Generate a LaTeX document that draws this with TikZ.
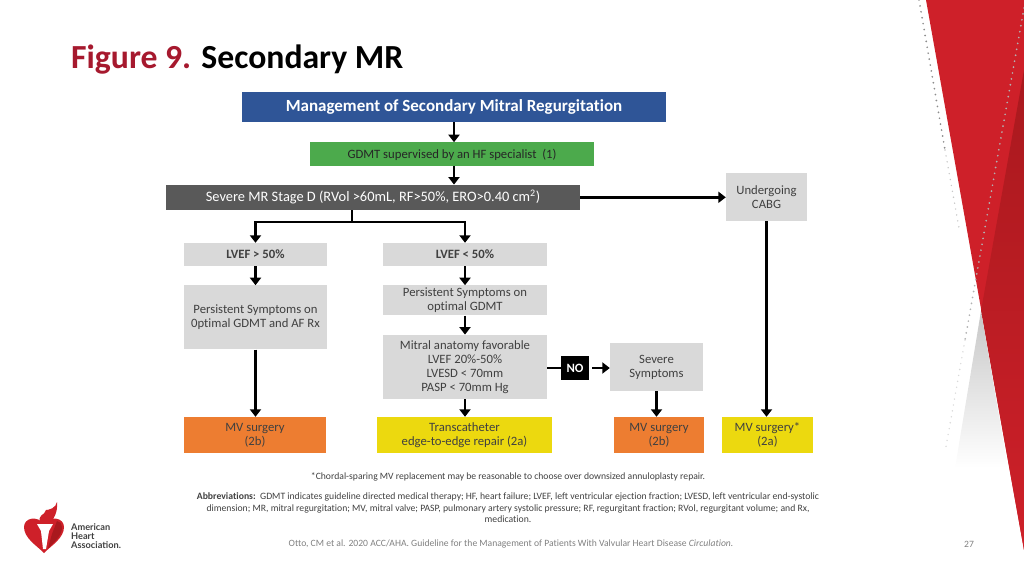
\documentclass[tikz,border=0pt]{standalone}
\usepackage{fontspec}
\setmainfont{Carlito}[RawFeature={-liga;-clig}]
\newfontfamily\logofont{Lato}
\usetikzlibrary{positioning,arrows.meta}
\definecolor{ahared}{HTML}{CE2029}
\definecolor{ahadark}{HTML}{A9191E}
\definecolor{titlered}{HTML}{A6192E}
\definecolor{boxgray}{HTML}{D9D9D9}
\definecolor{textgray}{HTML}{404040}
\definecolor{surgeryorange}{HTML}{ED7D31}
\definecolor{surgeryyellow}{HTML}{ECD90F}
\definecolor{headblue}{HTML}{2F5597}
\definecolor{gdmtgreen}{HTML}{4CAA4C}
\definecolor{severegray}{HTML}{595959}
\tikzset{
  flow/.style={line width=2.8pt, -{Triangle[length=7.5pt,width=11pt]}},
  plain/.style={line width=2.8pt},
  boxbase/.style={inner sep=0pt, align=center, font=\fontsize{12.7}{14}\selectfont, text=textgray},
  graybox/.style={boxbase, fill=boxgray},
  orangebox/.style={boxbase, fill=surgeryorange, minimum height=36pt},
  yellowbox/.style={boxbase, fill=surgeryyellow, minimum height=36pt},
  dots/.style={line cap=round, dash pattern=on 0pt off 6pt},
}
\begin{document}
\begin{tikzpicture}[x=1pt, y=1pt, node distance=19pt]
  \useasboundingbox (0,0) rectangle (1024,-576);

  % background shapes
  \fill[ahared] (926,0) -- (1024,0) -- (1024,-550) -- cycle;
  \shade[top color=ahadark, bottom color=ahared]
    (1024,-70) -- (981,-311) -- (1024,-550) -- cycle;
  \shade[top color=black!22, bottom color=white] (981,-311) -- (955,-468) -- (1008,-468) -- cycle;
  \draw[dots, black!45, line width=1.9pt] (919,0) -- (945,-150);
  \draw[dots, black!22, line width=1.6pt] (945,-150) -- (959,-228);
  \draw[dots, black!30, line width=1.9pt] (1024,-8) -- (965,-340);
  \draw[dots, black!15, line width=1.6pt] (965,-340) -- (945,-452);

  % title
  \node[anchor=west, inner sep=0pt, font=\fontsize{33.7}{38}\selectfont\bfseries] (heading) at (71,-60)
    {\textcolor{titlered}{Figure 9.} Secondary MR};

  % flow boxes
  \node[boxbase, fill=headblue, text=white, font=\fontsize{17}{20}\selectfont\bfseries,
    minimum width=424pt, minimum height=30pt] (head) at (454,-107)
    {\raisebox{-1.3pt}{Management of Secondary Mitral Regurgitation}};
  \node[boxbase, fill=gdmtgreen, text=black!85, minimum width=284pt, minimum height=24pt]
    (gdmt) [below=20pt of head, xshift=-2pt] {GDMT supervised by an HF specialist\ \ (1)};
  \node[boxbase, fill=severegray, text=white, font=\fontsize{14.4}{16}\selectfont,
    minimum width=414pt, minimum height=25pt]
    (severe) [below=18pt of gdmt, xshift=-79pt] {Severe MR Stage D (RVol >60mL, RF>50\%, ERO>0.40 cm\textsuperscript{2})};
  \node[graybox, minimum width=81pt, minimum height=48pt] (cabg) at (766.5,-197) {Undergoing\\CABG};

  \node[graybox, font=\fontsize{12.7}{14}\selectfont\bfseries, minimum width=143pt, minimum height=23pt]
    (lvefhi) at (255.5,-254.5) {LVEF > 50\%};
  \node[graybox, font=\fontsize{12.7}{14}\selectfont\bfseries, minimum width=164pt, minimum height=23pt]
    (lveflo) at (465,-254.5) {LVEF < 50\%};
  \node[graybox, minimum width=143pt, minimum height=64pt] (symleft) [below=19pt of lvefhi]
    {Persistent Symptoms on\\0ptimal GDMT and AF Rx};
  \node[graybox, minimum width=164pt, minimum height=30pt] (symmid) [below=19pt of lveflo]
    {Persistent Symptoms on\\optimal GDMT};
  \node[graybox, minimum width=164pt, minimum height=64pt] (anatomy) [below=19pt of symmid]
    {Mitral anatomy favorable\\LVEF 20\%-50\%\\LVESD < 70mm\\PASP < 70mm Hg};
  \node[boxbase, fill=black, text=white, font=\fontsize{12.7}{14}\selectfont\bfseries,
    minimum width=28pt, minimum height=24pt] (no) at (575,-368) {NO};
  \node[graybox, minimum width=93pt, minimum height=48pt] (sevsym) at (656.5,-367) {Severe\\Symptoms};

  \node[orangebox, minimum width=142pt] (mvleft) at (255,-435) {MV surgery\\(2b)};
  \node[yellowbox, minimum width=175pt] (teer) at (464.5,-435) {Transcatheter\\edge-to-edge repair (2a)};
  \node[orangebox, minimum width=90pt] (mvmid) at (659,-435) {MV surgery\\(2b)};
  \node[yellowbox, minimum width=91pt] (mvright) at (767.5,-435) {MV surgery*\\(2a)};

  \coordinate (fork) at (352,-222);
  \coordinate (headout) at (454,-122);
  \coordinate (gdmtout) at (454,-166);

  % connectors
  \draw[flow] (headout) -- (headout |- gdmt.north);
  \draw[flow] (gdmtout) -- (gdmtout |- severe.north);
  \draw[flow] (severe.east) -- (cabg.west |- severe.east);
  \draw[plain] (fork |- severe.south) -- (fork);
  \draw[flow] (fork) -| (lvefhi.north);
  \draw[flow] (fork) -| (lveflo.north);
  \draw[flow] (lvefhi.south) -- (symleft.north);
  \draw[flow] (symleft.south) -- (symleft.south |- mvleft.north);
  \draw[flow] (lveflo.south) -- (symmid.north);
  \draw[flow] (symmid.south) -- (anatomy.north);
  \draw[flow] (anatomy.south) -- (anatomy.south |- teer.north);
  \draw[plain] (anatomy.east |- no.west) -- (no.west);
  \draw[flow, shorten <=3pt] (no.east) -- (sevsym.west |- no.east);
  \draw[flow] (sevsym.south) -- (sevsym.south |- mvmid.north);
  \draw[flow] (cabg.south) -- (cabg.south |- mvright.north);

  % notes
  \node[inner sep=0pt, font=\fontsize{9.65}{11}\selectfont, text=textgray] (chordal) at (508,-477)
    {*Chordal-sparing MV replacement may be reasonable to choose over downsized annuloplasty repair.};
  \node[inner sep=0pt, align=center, font=\fontsize{9.7}{11.4}\selectfont, text=textgray] (abbrev) at (508,-508)
    {\textbf{Abbreviations:}\ \ GDMT indicates guideline directed medical therapy; HF, heart failure; LVEF, left ventricular ejection fraction; LVESD, left ventricular end-systolic\\
     dimension; MR, mitral regurgitation; MV, mitral valve; PASP, pulmonary artery systolic pressure; RF, regurgitant fraction; RVol, regurgitant volume; and Rx,\\
     medication.};
  \node[inner sep=0pt, font=\fontsize{9.63}{11}\selectfont, text=black!50] (source) at (511,-544)
    {Otto, CM et al. 2020 ACC/AHA. Guideline for the Management of Patients With Valvular Heart Disease \textit{Circulation.}};
  \node[inner sep=0pt, font=\fontsize{9.63}{11}\selectfont, text=black!50] (pagenum) at (969,-544) {27};

  % logo
  \fill[ahared] (44,-553) .. controls (36,-545) and (24,-538) .. (24,-527)
    .. controls (24,-518) and (37,-515) .. (44,-524)
    .. controls (51,-515) and (64,-518) .. (64,-527)
    .. controls (64,-538) and (52,-545) .. (44,-553) -- cycle;
  \fill[ahadark] (48,-548) .. controls (56,-541) and (62,-535) .. (62,-527)
    .. controls (62,-524) and (60,-521) .. (57,-521) -- (52,-534) -- cycle;
  \fill[ahared] (41,-524) .. controls (36,-514) and (45,-516) .. (46,-510)
    .. controls (49,-510) and (56,-508) .. (57,-502)
    .. controls (58,-512) and (54,-518) .. (50,-524) -- cycle;
  \fill[white] (37,-524) -- (53,-524) -- (49,-531) -- (46,-549) -- (43,-549) -- (41,-531) -- cycle;
  \node[anchor=north west, inner sep=0pt, align=left, text=black!75,
    font=\logofont\fontsize{9.2}{9.2}\selectfont\bfseries] (logotext) at (71,-523)
    {American\\Heart\\Association.};
\end{tikzpicture}
\end{document}
